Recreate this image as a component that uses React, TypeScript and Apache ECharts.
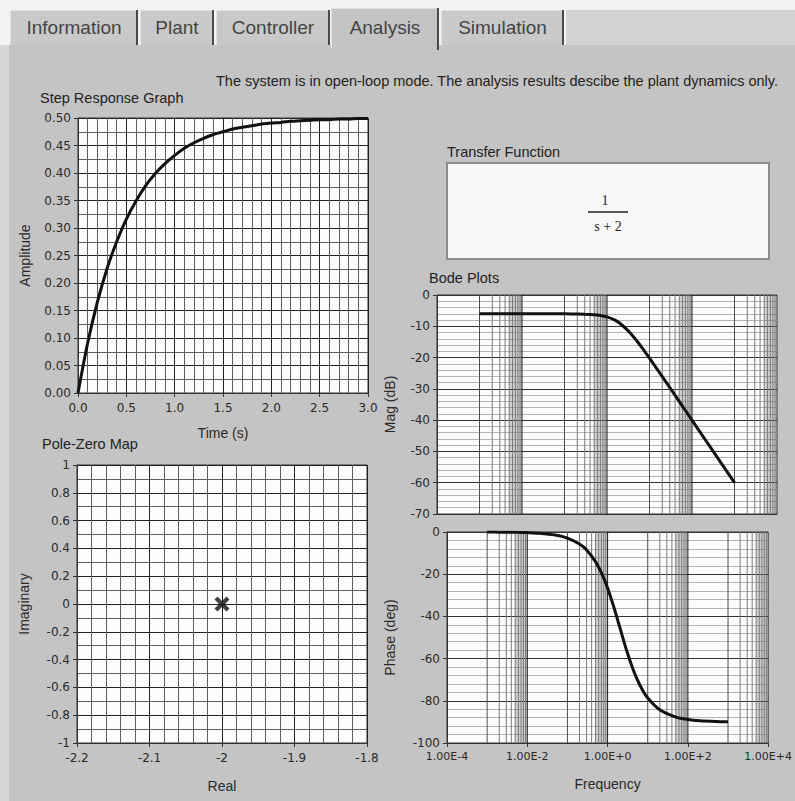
import React, { useEffect, useRef } from 'react';
import * as echarts from 'echarts';

// ---------- data ----------
const tabLabels = ['Information', 'Plant', 'Controller', 'Analysis', 'Simulation'];
const headerText = 'The system is in open-loop mode. The analysis results descibe the plant dynamics only.';

const stepTime = [0.0, 0.1, 0.2, 0.3, 0.4, 0.5, 0.6, 0.7, 0.8, 0.9, 1.0, 1.1, 1.2, 1.3, 1.4, 1.5, 1.6, 1.7, 1.8, 1.9, 2.0, 2.1, 2.2, 2.3, 2.4, 2.5, 2.6, 2.7, 2.8, 2.9, 3.0];
const stepAmplitude = [0.0, 0.091, 0.165, 0.226, 0.275, 0.316, 0.349, 0.377, 0.399, 0.417, 0.432, 0.445, 0.455, 0.463, 0.470, 0.475, 0.480, 0.483, 0.486, 0.489, 0.491, 0.492, 0.494, 0.495, 0.496, 0.497, 0.497, 0.498, 0.498, 0.499, 0.499];

const poleReal = [-2];
const poleImag = [0];

const bodeFreq = [0.001, 0.002, 0.005, 0.01, 0.02, 0.05, 0.1, 0.2, 0.3, 0.5, 0.7, 1, 1.5, 2, 3, 4, 5, 7, 10, 20, 50, 100, 200, 500, 1000];
const bodeMag = [-6.02, -6.02, -6.02, -6.02, -6.02, -6.03, -6.03, -6.07, -6.12, -6.28, -6.52, -6.99, -7.96, -9.03, -11.14, -13.01, -14.62, -17.24, -20.17, -26.06, -33.99, -40.0, -46.02, -53.98, -60.0];
const bodePhase = [-0.03, -0.06, -0.14, -0.29, -0.57, -1.43, -2.86, -5.71, -8.53, -14.04, -19.29, -26.57, -36.87, -45.0, -56.31, -63.43, -68.2, -74.05, -78.69, -84.29, -87.71, -88.85, -89.43, -89.77, -89.89];

const logDecades = [-4, -3, -2, -1, 0, 1, 2, 3];
const logMinorMultipliers = [2, 3, 4, 5, 6, 7, 8, 9];

// ---------- styles ----------
const TICK_FONT = { fontFamily: 'DejaVu Sans', fontSize: 12, color: '#2a2a2a' };
const NAME_FONT = { fontFamily: 'Liberation Sans', fontSize: 14, color: '#2a2a2a' };
const PANEL = '#c4c4c4';
const LABEL_FONT = '14.5px "Liberation Sans"';

const fmtE = (v: number) => {
  const e = Math.round(Math.log10(v));
  if (Math.abs(e) % 2 === 1) return '';
  return '1.00E' + (e >= 0 ? '+' : '-') + Math.abs(e);
};

function logGridSeries(idx: number, yMin: number, yMax: number) {
  const out: any[] = [];
  const areas: any[] = [];
  const addLine = (v: number, color: string) => {
    out.push({
      type: 'line', xAxisIndex: idx, yAxisIndex: idx, silent: true, z: 1,
      showSymbol: false, symbol: 'none',
      data: [[v, yMin], [v, yMax]],
      lineStyle: { color, width: 1 },
    });
  };
  logDecades.forEach((e) => {
    const base = Math.pow(10, e);
    const odd = Math.abs(e) % 2 === 1;
    if (e !== -4) addLine(base, odd ? '#4e4e4e' : '#1a1a1a');
    if (odd) {
      logMinorMultipliers.forEach((k) => addLine(k * base, '#7a7a7a'));
      areas.push([{ xAxis: 5 * base }, { xAxis: base * 10 }]);
    }
  });
  out.push({
    type: 'line', xAxisIndex: idx, yAxisIndex: idx, data: [], silent: true, z: 1,
    markArea: { silent: true, itemStyle: { color: 'rgba(70,70,70,0.25)' }, label: { show: false }, data: areas },
  });
  return out;
}

function linAxis(gridIndex: number, o: any) {
  return {
    gridIndex,
    type: 'value',
    axisLine: { show: true, onZero: false, lineStyle: { color: '#333', width: 1 } },
    axisTick: { show: true, length: 4, lineStyle: { color: '#333' } },
    axisLabel: { ...TICK_FONT, margin: 7 },
    splitLine: { show: true, lineStyle: { color: '#222', width: 1 } },
    minorTick: { show: false, splitNumber: 5 },
    minorSplitLine: { show: true, lineStyle: { color: '#5e5e5e', width: 1 } },
    nameLocation: 'middle',
    nameTextStyle: NAME_FONT,
    ...o,
  };
}

export default function App() {
  const ref = useRef<HTMLDivElement>(null);
  useEffect(() => {
    document.body.style.margin = '0';
    if (!ref.current) return;
    const chart = echarts.init(ref.current, undefined, { renderer: 'svg' });

    const tabX = [10, 140, 216, 331, 441];
    const tabW = [128, 74, 114, 108, 123];
    const graphics: any[] = [];
    graphics.push({ type: 'rect', silent: true, shape: { x: 0, y: 0, width: 795, height: 45 }, style: { fill: '#f3f3f3' } });
    graphics.push({ type: 'rect', silent: true, shape: { x: 566, y: 10, width: 229, height: 35 }, style: { fill: '#d3d3d3' } });
    graphics.push({ type: 'rect', silent: true, shape: { x: 0, y: 45, width: 9, height: 756 }, style: { fill: '#d6d6d6' } });
    tabLabels.forEach((label, i) => {
      const active = i === 3;
      const x = tabX[i];
      const w = tabW[i];
      const y = active ? 8 : 10;
      const h = active ? 40 : 35;
      graphics.push({ type: 'rect', silent: true, shape: { x, y, width: w, height: h }, style: { fill: active ? PANEL : '#c9c9c9' } });
      graphics.push({ type: 'line', silent: true, shape: { x1: x + 0.5, y1: y, x2: x + 0.5, y2: y + h }, style: { stroke: '#e2e2e2', lineWidth: 1 } });
      graphics.push({ type: 'line', silent: true, shape: { x1: x, y1: y + 0.5, x2: x + w, y2: y + 0.5 }, style: { stroke: '#e2e2e2', lineWidth: 1 } });
      graphics.push({ type: 'line', silent: true, shape: { x1: x + w - 1, y1: y, x2: x + w - 1, y2: y + h + (active ? 2 : 0) }, style: { stroke: '#4a4a4a', lineWidth: 2 } });
      graphics.push({
        type: 'text', silent: true, x: x + w / 2, y: 27,
        style: { text: label, fill: '#444', font: '19px "Liberation Sans"', align: 'center', verticalAlign: 'middle' },
      });
    });
    graphics.push({ type: 'text', silent: true, x: 778, y: 81, style: { text: headerText, fill: '#222', font: LABEL_FONT, align: 'right', verticalAlign: 'middle' } });
    graphics.push({ type: 'text', silent: true, x: 40, y: 98, style: { text: 'Step Response Graph', fill: '#222', font: LABEL_FONT, align: 'left', verticalAlign: 'middle' } });
    graphics.push({ type: 'text', silent: true, x: 42, y: 444, style: { text: 'Pole-Zero Map', fill: '#222', font: LABEL_FONT, align: 'left', verticalAlign: 'middle' } });
    graphics.push({ type: 'text', silent: true, x: 447, y: 152, style: { text: 'Transfer Function', fill: '#222', font: LABEL_FONT, align: 'left', verticalAlign: 'middle' } });
    graphics.push({ type: 'text', silent: true, x: 429, y: 278, style: { text: 'Bode Plots', fill: '#222', font: LABEL_FONT, align: 'left', verticalAlign: 'middle' } });
    graphics.push({ type: 'rect', silent: true, shape: { x: 447, y: 163, width: 322, height: 96 }, style: { fill: '#f8f8f8', stroke: '#8c8c8c', lineWidth: 2 } });
    graphics.push({ type: 'text', silent: true, x: 605, y: 200, style: { text: '1', fill: '#222', font: '14px "Liberation Serif"', align: 'center', verticalAlign: 'middle' } });
    graphics.push({ type: 'line', silent: true, shape: { x1: 588, y1: 212, x2: 628, y2: 212 }, style: { stroke: '#222', lineWidth: 1.5 } });
    graphics.push({ type: 'text', silent: true, x: 608, y: 226, style: { text: 's + 2', fill: '#222', font: '14px "Liberation Serif"', align: 'center', verticalAlign: 'middle' } });

    const logAxis = (gridIndex: number, showLabels: boolean, extra: any) => ({
      gridIndex,
      type: 'log',
      logBase: 10,
      min: 1e-4,
      max: 1e4,
      interval: 2,
      axisLine: { show: true, onZero: false, lineStyle: { color: '#333' } },
      axisTick: { show: showLabels, length: 4, lineStyle: { color: '#333' } },
      axisLabel: { show: showLabels, ...TICK_FONT, fontSize: 11, margin: 8, formatter: fmtE },
      splitLine: { show: false },
      minorSplitLine: { show: false },
      nameLocation: 'middle',
      nameTextStyle: NAME_FONT,
      ...extra,
    });

    const option: any = {
      animation: false,
      backgroundColor: PANEL,
      graphic: { elements: graphics },
      grid: [
        { left: 78, top: 118, width: 290, height: 275, show: true, backgroundColor: '#fcfcfc', borderColor: '#333', borderWidth: 1 },
        { left: 77, top: 465, width: 290, height: 278, show: true, backgroundColor: '#fcfcfc', borderColor: '#333', borderWidth: 1 },
        { left: 437, top: 295, width: 340, height: 219, show: true, backgroundColor: '#fcfcfc', borderColor: '#333', borderWidth: 1 },
        { left: 447, top: 532, width: 329, height: 211, show: true, backgroundColor: '#fcfcfc', borderColor: '#333', borderWidth: 1 },
      ],
      xAxis: [
        linAxis(0, { min: 0, max: 3, interval: 0.5, name: 'Time (s)', nameGap: 33, axisLabel: { ...TICK_FONT, margin: 9, formatter: (v: number) => v.toFixed(1) } }),
        linAxis(1, { min: -2.2, max: -1.8, interval: 0.1, name: 'Real', nameGap: 36, axisLabel: { ...TICK_FONT, margin: 9, formatter: (v: number) => String(Math.round(v * 10) / 10) } }),
        logAxis(2, false, {}),
        logAxis(3, true, { name: 'Frequency', nameGap: 34 }),
      ],
      yAxis: [
        linAxis(0, { min: 0, max: 0.5, interval: 0.05, name: 'Amplitude', nameRotate: 90, nameGap: 46, minorTick: { show: false, splitNumber: 2 }, axisLabel: { ...TICK_FONT, margin: 7, formatter: (v: number) => v.toFixed(2) } }),
        linAxis(1, { min: -1, max: 1, interval: 0.2, name: 'Imaginary', nameRotate: 90, nameGap: 46, minorTick: { show: false, splitNumber: 2 }, axisLabel: { ...TICK_FONT, margin: 7, formatter: (v: number) => String(Math.round(v * 10) / 10) } }),
        linAxis(2, { min: -70, max: 0, interval: 10, name: 'Mag (dB)', nameRotate: 90, nameGap: 40, splitLine: { show: true, lineStyle: { color: '#333' } }, minorTick: { show: false, splitNumber: 5 }, minorSplitLine: { show: true, lineStyle: { color: '#b4b4b4' } } }),
        linAxis(3, { min: -100, max: 0, interval: 20, name: 'Phase (deg)', nameRotate: 90, nameGap: 50, splitLine: { show: true, lineStyle: { color: '#333' } }, minorTick: { show: false, splitNumber: 5 }, minorSplitLine: { show: true, lineStyle: { color: '#b4b4b4' } } }),
      ],
      series: [
        ...logGridSeries(2, -70, 0),
        ...logGridSeries(3, -100, 0),
        {
          type: 'line', xAxisIndex: 0, yAxisIndex: 0, z: 5, showSymbol: false, smooth: 0.3,
          data: stepTime.map((t, i) => [t, stepAmplitude[i]]),
          lineStyle: { color: '#111', width: 3 },
        },
        {
          type: 'scatter', xAxisIndex: 1, yAxisIndex: 1, z: 5,
          symbol: 'path://M2,0 L5,3 L8,0 L10,2 L7,5 L10,8 L8,10 L5,7 L2,10 L0,8 L3,5 L0,2 Z',
          symbolSize: 15,
          itemStyle: { color: '#111' },
          data: poleReal.map((r, i) => [r, poleImag[i]]),
        },
        {
          type: 'line', xAxisIndex: 2, yAxisIndex: 2, z: 5, showSymbol: false, smooth: 0.2,
          data: bodeFreq.map((f, i) => [f, bodeMag[i]]),
          lineStyle: { color: '#111', width: 3 },
        },
        {
          type: 'line', xAxisIndex: 3, yAxisIndex: 3, z: 5, showSymbol: false, smooth: 0.3,
          data: bodeFreq.map((f, i) => [f, bodePhase[i]]),
          lineStyle: { color: '#111', width: 3 },
        },
      ],
    };
    chart.setOption(option);
    return () => chart.dispose();
  }, []);
  return <div ref={ref} style={{ width: 795, height: 801 }} />;
}
